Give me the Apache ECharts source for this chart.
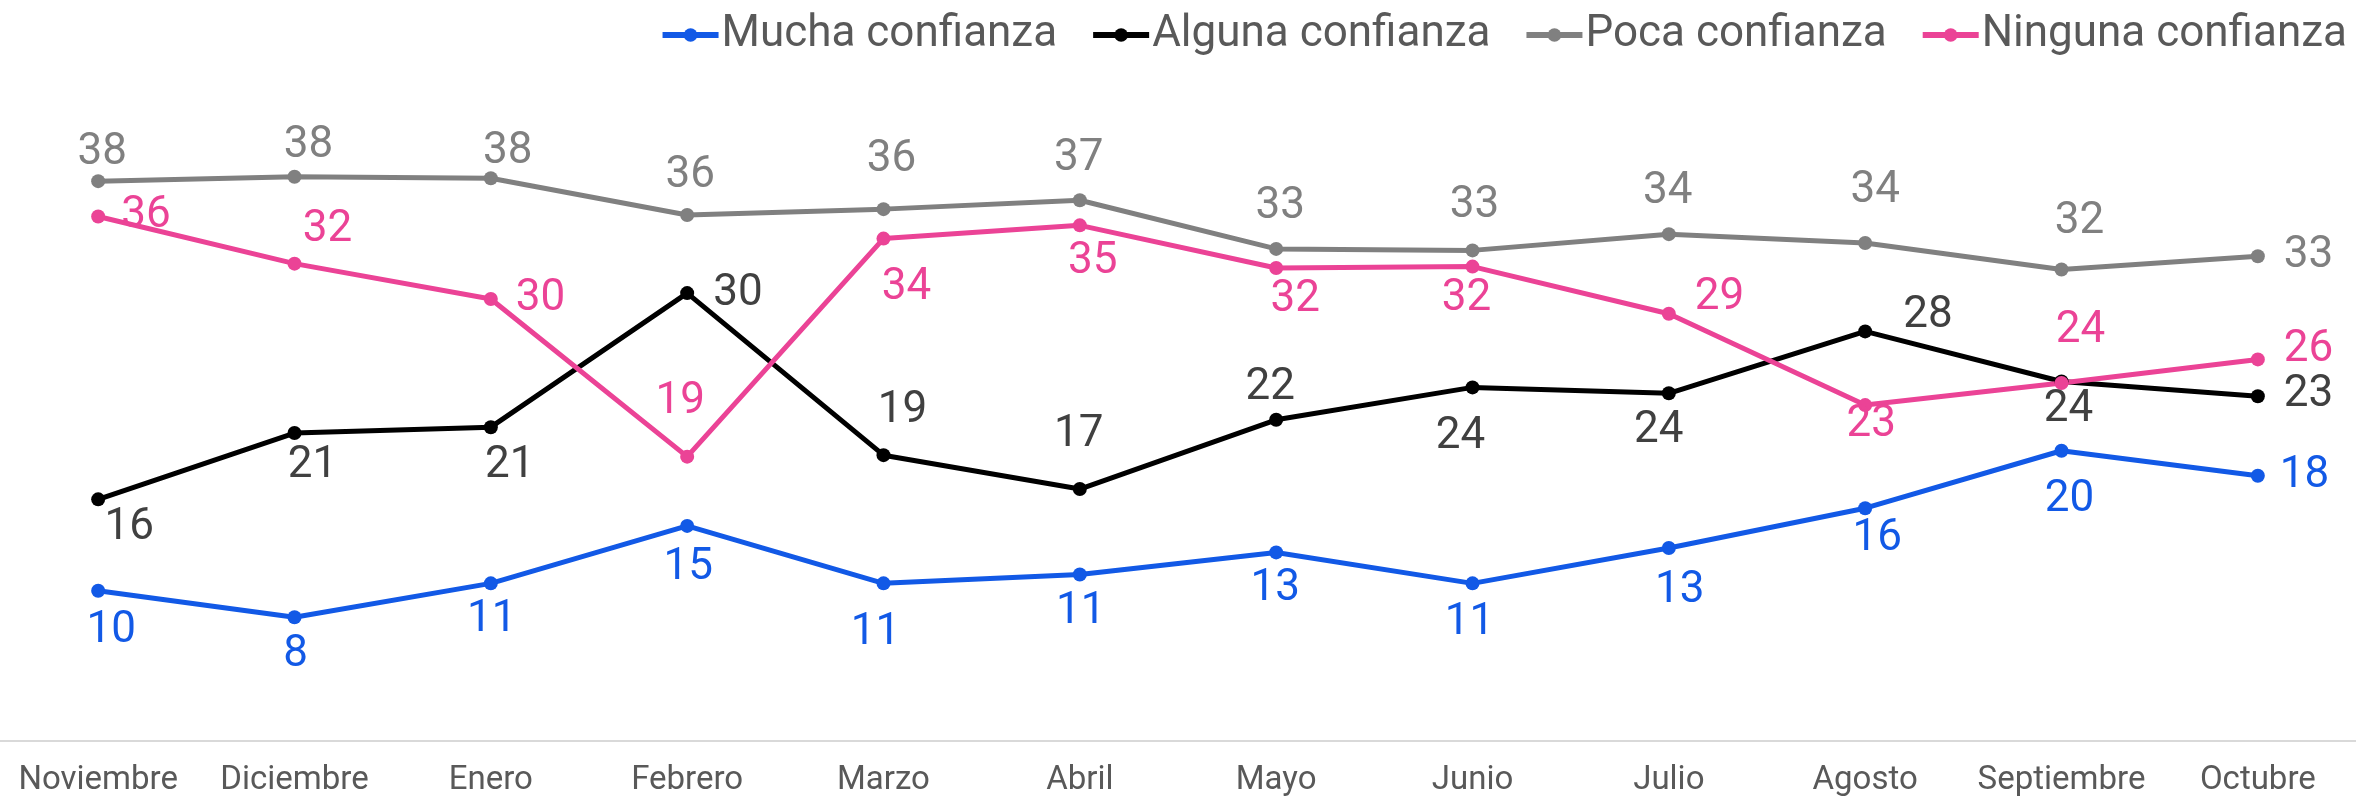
<!DOCTYPE html>
<html>
<head>
<meta charset="utf-8">
<title>Confianza</title>
<script src="https://cdn.jsdelivr.net/npm/echarts@6/dist/echarts.min.js"></script>
<style>
  html, body { margin: 0; padding: 0; background: #fff; }
  #main { width: 2356px; height: 797px; }
</style>
</head>
<body>
<div id="main"></div>
<script>
// data (labels are the rounded values)
var months = ['Noviembre', 'Diciembre', 'Enero', 'Febrero', 'Marzo', 'Abril', 'Mayo', 'Junio', 'Julio', 'Agosto', 'Septiembre', 'Octubre']
var seriesNames = ['Mucha confianza', 'Alguna confianza', 'Poca confianza', 'Ninguna confianza']
var mucha = [10.2, 8.4, 10.7, 14.6, 10.7, 11.3, 12.8, 10.7, 13.1, 15.8, 19.7, 18.0]
var alguna = [16.4, 20.9, 21.3, 30.4, 19.4, 17.1, 21.8, 24.0, 23.6, 27.8, 24.4, 23.4]
var poca = [38.0, 38.3, 38.2, 35.7, 36.1, 36.7, 33.4, 33.3, 34.4, 33.8, 32.0, 32.9]
var ninguna = [35.6, 32.4, 30.0, 19.3, 34.1, 35.0, 32.1, 32.2, 29.0, 22.8, 24.3, 25.9]

// label placement (style only)
var muchaPos = ['bottom', 'bottom', 'bottom', 'bottom', 'bottom', 'bottom', 'bottom', 'bottom', 'bottom', 'bottom', 'bottom', 'right']
var muchaOff = [[13, 6], [1, 4], [1, 3], [1, 8], [-8, 16], [1, 3], [-1, 3], [-3, 6], [11, 9], [12, -3], [8, 15], [10, 0]]
var algunaPos = ['bottom', 'bottom', 'bottom', 'right', 'top', 'top', 'top', 'bottom', 'bottom', 'right', 'bottom', 'right']
var algunaOff = [[31, -5], [18, -1], [19, 5], [14, 1], [19, -10], [-1, -20], [-6, 2], [-12, 16], [-10, 4], [26, -15], [7, -6], [14, -1]]
var pocaPos = ['top', 'top', 'top', 'top', 'top', 'top', 'top', 'top', 'top', 'top', 'top', 'right']
var pocaOff = [[4, 6], [14, 3], [17, 8], [3, -5], [8, -15], [-1, -7], [4, -8], [2, -10], [-1, -8], [10, -18], [18, -14], [14, 0]]
var ningunaPos = ['right', 'top', 'right', 'top', 'bottom', 'bottom', 'bottom', 'bottom', 'right', 'bottom', 'top', 'right']
var ningunaOff = [[11, 0], [33, 0], [13, 0], [-7, -21], [23, 15], [13, 3], [19, -2], [-6, -2], [14, -16], [6, -14], [19, -18], [14, -9]]

var chartDom = document.getElementById('main')
var myChart = echarts.init(chartDom)

function makeSeries (name, values, color, labelColor, pos, off) {
  return {
    name: name,
    type: 'line',
    symbol: 'circle',
    symbolSize: 14,
    lineStyle: { width: 5, color: color },
    itemStyle: { color: color },
    label: {
      show: true,
      color: labelColor,
      fontSize: 44,
      fontFamily: 'Roboto',
      formatter: function (p) { return Math.round(p.value) }
    },
    data: values.map(function (v, i) {
      return { value: v, label: { position: pos[i], offset: off[i] } }
    })
  }
}

var option = {
  animation: false,
  backgroundColor: '#ffffff',
  textStyle: { fontFamily: 'Roboto' },
  legend: {
    right: 4,
    top: 8,
    itemWidth: 56,
    itemHeight: 17,
    itemGap: 33,
    lineStyle: { width: 6 },
    textStyle: { color: '#595959', fontSize: 44, fontFamily: 'Roboto', padding: [0, 0, 0, -2] },
    data: seriesNames
  },
  grid: {
    left: -5,
    right: -19,
    top: 78,
    bottom: 54
  },
  xAxis: {
    type: 'category',
    data: months,
    boundaryGap: true,
    axisTick: { show: false },
    axisLine: { lineStyle: { color: '#d9d9d9', width: 2 } },
    axisLabel: { color: '#595959', fontSize: 33, margin: 23, interval: 0 }
  },
  yAxis: {
    type: 'value',
    min: 0,
    max: 45,
    show: false,
    splitLine: { show: false }
  },
  series: [
    makeSeries(seriesNames[0], mucha, '#1259e6', '#1259e6', muchaPos, muchaOff),
    makeSeries(seriesNames[1], alguna, '#000000', '#404040', algunaPos, algunaOff),
    makeSeries(seriesNames[2], poca, '#808080', '#808080', pocaPos, pocaOff),
    makeSeries(seriesNames[3], ninguna, '#eb4396', '#eb4396', ningunaPos, ningunaOff)
  ]
}

option && myChart.setOption(option)
</script>
</body>
</html>
